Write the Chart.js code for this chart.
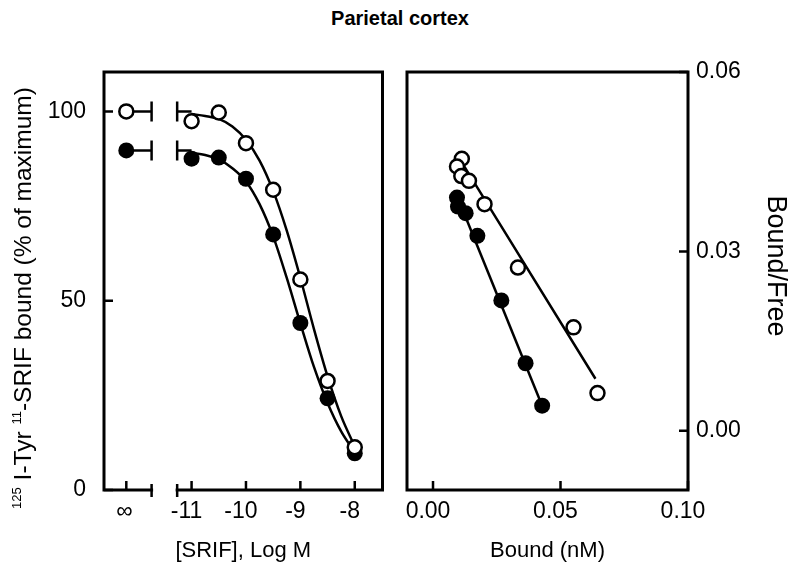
<!DOCTYPE html>
<html>
<head>
<meta charset="utf-8">
<script src="https://cdn.jsdelivr.net/npm/chart.js@4.4.0/dist/chart.umd.min.js"></script>
<style>
    body { margin: 0; width: 800px; height: 571px; position: relative; overflow: hidden; background: #fff;
           font-family: "Liberation Sans", Arial, sans-serif; color: #000; }
    #title { position: absolute; left: 0; top: 7px; width: 800px; text-align: center; font-weight: bold; font-size: 20px; }
    #left-chart { position: absolute; left: 0; top: 0; }
    #right-chart { position: absolute; left: 395px; top: 0; }
    #ylab { position: absolute; left: -227px; top: 284px; width: 500px; height: 28px; line-height: 28px;
            text-align: center; white-space: nowrap; font-size: 24.5px; transform: rotate(-90deg); }
    #ylab sup { font-size: 13px; vertical-align: 10px; line-height: 0; }
    #y2lab { position: absolute; left: 677px; top: 252px; width: 200px; height: 28px; line-height: 28px;
             text-align: center; font-size: 27px; transform: rotate(90deg); }
</style>
</head>
<body>
<div id="title">Parietal cortex</div>
<canvas id="left-chart" width="395" height="571"></canvas>
<canvas id="right-chart" width="405" height="571"></canvas>
<div id="ylab"><sup>125</sup> I-Tyr <sup>11</sup>-SRIF bound (% of maximum)</div>
<div id="y2lab">Bound/Free</div>
<script>
// competition curve (left panel)
const infPos = -12.2;               // where the "no SRIF" control sits on the axis
const axisBreak = [-11.735, -11.265];
const logConc = [-11, -10.5, -10, -9.5, -9, -8.5, -8];
const controlOpen = 100;
const controlFilled = 89.7;
const boundOpen = [97.4, 99.7, 91.6, 79.3, 55.6, 28.8, 11.3];
const boundFilled = [87.5, 87.8, 82.2, 67.5, 44.1, 24.2, 9.7];
const fitConc = [-11, -10.75, -10.5, -10.25, -10, -9.75, -9.5, -9.25, -9, -8.75, -8.5, -8.25, -8];
const fitOpen = [99.3, 98.8, 98, 96, 92.5, 87, 79, 68.5, 56, 42.5, 30, 19.5, 11.5];
const fitFilled = [89, 88.5, 87.3, 85, 81.5, 75.5, 67, 56, 44, 32.5, 23, 15.5, 10];
const leftXTicks = [infPos, -11, -10, -9, -8];
const leftXLabels = [" \u221E", "-11", "-10", "-9", "-8"];
const leftYTicks = [0, 50, 100];

// Scatchard plot (right panel)
const boundOpenNM = [0.0113, 0.0094, 0.0111, 0.0141, 0.0202, 0.0333, 0.0551, 0.0645];
const bfOpen = [0.0455, 0.0442, 0.0426, 0.0418, 0.0379, 0.0273, 0.0173, 0.0063];
const boundFilledNM = [0.0094, 0.0098, 0.0128, 0.0174, 0.0268, 0.0363, 0.0428];
const bfFilled = [0.0390, 0.0375, 0.0364, 0.0326, 0.0218, 0.0113, 0.0042];
const lineOpenX = [0.0111, 0.0637];
const lineOpenY = [0.045, 0.0087];
const lineFilledX = [0.0098, 0.0428];
const lineFilledY = [0.0389, 0.0042];
const rightXTicks = [0, 0.05, 0.1];
const rightXLabels = ["0.00", "0.05", "0.10"];
const rightYTicks = [0, 0.03, 0.06];
const rightYLabels = ["0.00", "0.03", "0.06"];

const pts = (xs, ys) => xs.map((x, i) => ({ x: x, y: ys[i] }));
const tickFont = { family: "'Liberation Sans', Arial, sans-serif", size: 23 };
const titleFont = { family: "'Liberation Sans', Arial, sans-serif", size: 22 };

// box round the plot, inward ticks, and the break on the left x axis
const frame = {
    id: "frame",
    afterDatasetsDraw(chart, args, opts) {
        const { ctx, chartArea: a } = chart;
        const xs = chart.scales.x, ys = chart.scales.y;
        ctx.save();
        ctx.strokeStyle = "#000";
        ctx.lineWidth = 3;
        ctx.lineCap = "square";
        ctx.beginPath();
        ctx.moveTo(a.left, a.bottom);
        ctx.lineTo(a.left, a.top);
        ctx.lineTo(a.right, a.top);
        ctx.lineTo(a.right, a.bottom);
        ctx.moveTo(a.left, a.bottom);
        if (opts.gap) {
            const g0 = xs.getPixelForValue(opts.gap[0]);
            const g1 = xs.getPixelForValue(opts.gap[1]);
            ctx.lineTo(g0, a.bottom);
            ctx.moveTo(g1, a.bottom);
        }
        ctx.lineTo(a.right, a.bottom);
        ctx.stroke();

        ctx.lineWidth = 2.5;
        ctx.lineCap = "butt";
        ctx.beginPath();
        if (opts.gap) {
            opts.gap.forEach((g) => {
                const px = xs.getPixelForValue(g);
                ctx.moveTo(px, a.bottom - 6);
                ctx.lineTo(px, a.bottom + 7);
            });
        }
        xs.ticks.forEach((t) => {
            const px = xs.getPixelForValue(t.value);
            ctx.moveTo(px, a.bottom);
            ctx.lineTo(px, a.bottom - 9);
        });
        const edge = opts.ySide === "right" ? a.right : a.left;
        const dir = opts.ySide === "right" ? -1 : 1;
        ys.ticks.forEach((t) => {
            const py = ys.getPixelForValue(t.value);
            ctx.moveTo(edge, py);
            ctx.lineTo(edge + dir * 9, py);
        });
        ctx.stroke();
        ctx.restore();
    },
};

const openPoint = { pointRadius: 7, pointBackgroundColor: "#fff", pointBorderColor: "#000", pointBorderWidth: 2.5, showLine: false };
const filledPoint = { pointRadius: 8, pointBackgroundColor: "#000", pointBorderColor: "#000", pointBorderWidth: 0, showLine: false };
const fitLine = { showLine: true, pointRadius: 0, borderColor: "#000", borderWidth: 2.5, cubicInterpolationMode: "monotone" };
const stub = { showLine: true, borderColor: "#000", borderWidth: 2.5, pointStyle: "line", pointRotation: 90, pointBorderColor: "#000", pointBorderWidth: 2.5 };

new Chart(document.getElementById("left-chart"), {
    type: "scatter",
    data: {
        datasets: [
            { ...openPoint, order: 0, data: [{ x: infPos, y: controlOpen }].concat(pts(logConc, boundOpen)) },
            { ...filledPoint, order: 1, data: [{ x: infPos, y: controlFilled }].concat(pts(logConc, boundFilled)) },
            { ...fitLine, order: 2, data: pts(fitConc, fitOpen) },
            { ...fitLine, order: 3, data: pts(fitConc, fitFilled) },
            { ...stub, order: 4, pointRadius: [0, 10], data: pts([infPos, axisBreak[0]], [controlOpen, controlOpen]) },
            { ...stub, order: 5, pointRadius: [10, 0], data: pts([axisBreak[1], logConc[0]], [controlOpen, controlOpen]) },
            { ...stub, order: 6, pointRadius: [0, 10], data: pts([infPos, axisBreak[0]], [controlFilled, controlFilled]) },
            { ...stub, order: 7, pointRadius: [10, 0], data: pts([axisBreak[1], logConc[0]], [controlFilled, controlFilled]) },
        ],
    },
    options: {
        responsive: false,
        animation: false,
        layout: { padding: { top: 72, right: 12, left: 0, bottom: 0 } },
        scales: {
            x: {
                type: "linear",
                min: -12.61,
                max: -7.49,
                grid: { display: false },
                border: { display: false },
                afterBuildTicks: (s) => { s.ticks = leftXTicks.map((v) => ({ value: v })); },
                afterFit: (s) => { s.height = 81; },
                ticks: { autoSkip: false, maxRotation: 0, padding: 0, labelOffset: -5, color: "#000", font: tickFont,
                         callback: (v, i) => leftXLabels[i] },
                title: { display: true, text: "[SRIF], Log M", color: "#000", font: titleFont, padding: { top: 0, bottom: 7 } },
            },
            y: {
                min: 0,
                max: 110.4,
                grid: { display: false },
                border: { display: false },
                afterBuildTicks: (s) => { s.ticks = leftYTicks.map((v) => ({ value: v })); },
                afterFit: (s) => { s.width = 104; },
                ticks: { padding: 10, color: "#000", font: tickFont },
            },
        },
        plugins: { legend: { display: false }, tooltip: { enabled: false }, frame: { gap: axisBreak, ySide: "left" } },
    },
    plugins: [frame],
});

new Chart(document.getElementById("right-chart"), {
    type: "scatter",
    data: {
        datasets: [
            { ...openPoint, order: 0, data: pts(boundOpenNM, bfOpen) },
            { ...filledPoint, order: 1, data: pts(boundFilledNM, bfFilled) },
            { ...fitLine, order: 2, data: pts(lineOpenX, lineOpenY) },
            { ...fitLine, order: 3, data: pts(lineFilledX, lineFilledY) },
        ],
    },
    options: {
        responsive: false,
        animation: false,
        layout: { padding: { top: 72, right: 0, left: 12, bottom: 0 } },
        scales: {
            x: {
                type: "linear",
                min: -0.0102,
                max: 0.1,
                grid: { display: false },
                border: { display: false },
                afterBuildTicks: (s) => { s.ticks = rightXTicks.map((v) => ({ value: v })); },
                afterFit: (s) => { s.height = 81; },
                ticks: { autoSkip: false, maxRotation: 0, padding: 0, labelOffset: -5, color: "#000", font: tickFont,
                         callback: (v, i) => rightXLabels[i] },
                title: { display: true, text: "Bound (nM)", color: "#000", font: titleFont, padding: { top: 0, bottom: 7 } },
            },
            y: {
                position: "right",
                min: -0.0099,
                max: 0.06,
                grid: { display: false },
                border: { display: false },
                afterBuildTicks: (s) => { s.ticks = rightYTicks.map((v) => ({ value: v })); },
                afterFit: (s) => { s.width = 112; },
                ticks: { padding: 0, color: "#000", font: tickFont, callback: (v, i) => rightYLabels[i] },
            },
        },
        plugins: { legend: { display: false }, tooltip: { enabled: false }, frame: { ySide: "right" } },
    },
    plugins: [frame],
});
</script>
</body>
</html>
